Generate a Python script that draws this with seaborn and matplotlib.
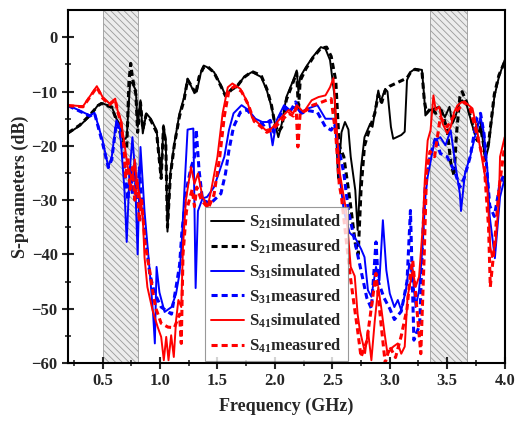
import numpy as np
import pandas as pd
import matplotlib
matplotlib.use("Agg")
import matplotlib.pyplot as plt
import seaborn as sns

# S21 simulated
s21_sim_f = [0.20, 0.30, 0.39, 0.46, 0.49, 0.58, 0.62, 0.65, 0.68, 0.71, 0.74, 0.76, 0.79, 0.805,
             0.83, 0.85, 0.88, 0.92, 0.97, 1.01, 1.03, 1.05, 1.065, 1.09, 1.125, 1.17, 1.21, 1.24,
             1.28, 1.32, 1.36, 1.38, 1.41, 1.47, 1.53, 1.57, 1.62, 1.67, 1.73, 1.80, 1.88, 1.93,
             1.97, 2.00, 2.03, 2.06, 2.10, 2.16, 2.19, 2.205, 2.22, 2.27, 2.33, 2.40, 2.44, 2.48,
             2.52, 2.55, 2.58, 2.61, 2.64, 2.66, 2.70, 2.72, 2.75, 2.78, 2.83, 2.85, 2.90, 2.92,
             2.96, 2.98, 3.01, 3.03, 3.10, 3.13, 3.15, 3.18, 3.22, 3.28, 3.30, 3.31, 3.35, 3.39,
             3.43, 3.48, 3.52, 3.545, 3.57, 3.61, 3.63, 3.67, 3.73, 3.79, 3.83, 3.86, 3.91, 3.95, 4.00]
s21_sim_db = [-17.7, -16.3, -14.5, -12.5, -12.1, -12.8, -15.0, -16.0, -19.0, -18.4, -8.2, -8.5, -9.8, -16.5,
              -11.6, -17.7, -14.0, -15.0, -17.1, -25.7, -16.2, -19.0, -35.8, -25.0, -19.5, -14.0, -11.0, -7.6,
              -9.4, -10.0, -6.1, -5.2, -5.5, -6.4, -8.8, -10.7, -9.5, -9.2, -7.3, -6.4, -7.3, -9.8,
              -12.8, -15.9, -18.4, -15.9, -11.0, -7.9, -6.1, -10.0, -7.3, -5.5, -3.6, -1.8, -2.1, -4.2,
              -11.0, -26.0, -17.5, -15.6, -17.0, -22.0, -28.2, -35.5, -24.0, -18.4, -15.9, -16.5, -9.8, -11.9,
              -9.5, -10.0, -16.5, -18.7, -18.0, -17.4, -7.9, -6.4, -5.8, -6.0, -11.0, -14.4, -13.4, -13.1,
              -12.8, -14.7, -12.8, -15.9, -14.7, -11.9, -11.6, -12.5, -17.1, -15.3, -22.7, -20.2, -11.0, -7.3, -4.2]

# S21 measured
s21_mea_f = [0.20, 0.30, 0.39, 0.46, 0.49, 0.58, 0.62, 0.68, 0.71, 0.73, 0.745, 0.76, 0.79, 0.805,
             0.83, 0.85, 0.88, 0.92, 0.97, 1.01, 1.03, 1.05, 1.065, 1.09, 1.125, 1.17, 1.21, 1.24,
             1.28, 1.31, 1.34, 1.38, 1.41, 1.47, 1.53, 1.57, 1.62, 1.67, 1.73, 1.80, 1.88, 1.93,
             1.97, 2.00, 2.03, 2.06, 2.10, 2.16, 2.19, 2.205, 2.22, 2.27, 2.33, 2.40, 2.45, 2.49,
             2.53, 2.56, 2.60, 2.65, 2.70, 2.725, 2.75, 2.78, 2.83, 2.87, 2.90, 2.93, 2.96, 3.00,
             3.05, 3.10, 3.15, 3.18, 3.22, 3.28, 3.30, 3.32, 3.36, 3.40, 3.45, 3.50, 3.53, 3.56,
             3.58, 3.61, 3.63, 3.67, 3.72, 3.76, 3.79, 3.83, 3.86, 3.91, 3.95, 4.00]
s21_mea_db = [-17.6, -16.2, -14.3, -12.6, -12.2, -12.9, -15.2, -19.5, -20.5, -8.0, -4.8, -7.5, -10.5, -17.5,
              -12.0, -17.0, -14.2, -15.3, -17.5, -26.0, -16.5, -19.5, -35.0, -25.5, -19.8, -14.5, -11.5, -7.8,
              -9.2, -10.5, -7.3, -5.5, -5.3, -6.5, -9.0, -10.8, -9.7, -9.0, -7.4, -6.3, -7.0, -9.5,
              -12.5, -16.0, -17.5, -16.5, -11.5, -8.2, -6.5, -13.5, -8.0, -5.8, -3.8, -2.0, -1.8, -3.5,
              -8.0, -20.0, -22.0, -29.5, -38.0, -40.0, -28.0, -20.0, -16.5, -14.0, -10.5, -12.0, -9.8, -9.0,
              -8.5, -8.0, -7.5, -6.5, -5.9, -6.2, -11.5, -14.0, -13.0, -14.0, -13.5, -17.0, -23.0, -25.5,
              -18.0, -11.0, -10.0, -12.0, -16.0, -19.0, -16.5, -21.5, -19.5, -10.5, -7.0, -4.5]

# S31 simulated
s31_sim_f = [0.20, 0.30, 0.39, 0.43, 0.50, 0.55, 0.58, 0.62, 0.65, 0.69, 0.71, 0.735, 0.76, 0.78,
             0.805, 0.83, 0.865, 0.91, 0.94, 0.955, 0.97, 0.995, 1.04, 1.10, 1.14, 1.17, 1.19, 1.22,
             1.24, 1.29, 1.31, 1.33, 1.37, 1.41, 1.47, 1.56, 1.60, 1.64, 1.71, 1.77, 1.83, 1.89,
             1.95, 1.98, 2.015, 2.08, 2.13, 2.18, 2.22, 2.29, 2.37, 2.44, 2.51, 2.535, 2.56, 2.60,
             2.65, 2.70, 2.75, 2.78, 2.81, 2.84, 2.88, 2.91, 2.94, 2.97, 3.00, 3.04, 3.07, 3.10,
             3.14, 3.17, 3.20, 3.225, 3.255, 3.285, 3.31, 3.33, 3.39, 3.44, 3.485, 3.53, 3.57, 3.61,
             3.62, 3.655, 3.70, 3.74, 3.79, 3.82, 3.85, 3.87, 3.915, 3.96, 4.00]
s31_sim_db = [-12.5, -13.5, -14.4, -13.9, -19.0, -23.9, -22.0, -15.3, -16.5, -28.0, -37.7, -25.0, -18.4, -24.0,
              -40.0, -20.2, -32.0, -43.0, -51.0, -56.4, -42.3, -47.0, -50.6, -49.7, -47.2, -43.5, -37.4, -25.0,
              -17.0, -16.8, -46.2, -32.0, -29.7, -29.4, -27.6, -22.0, -17.1, -14.0, -12.5, -13.4, -15.0, -15.6,
              -15.6, -19.9, -15.3, -12.5, -13.4, -12.8, -13.8, -13.1, -12.5, -15.0, -15.0, -17.0, -25.0, -32.0,
              -36.0, -37.0, -39.0, -40.5, -46.6, -47.8, -42.3, -44.8, -33.7, -42.9, -47.2, -49.7, -48.4, -50.3,
              -46.6, -41.7, -44.0, -49.7, -46.6, -38.6, -29.4, -25.7, -19.0, -18.4, -19.9, -17.1, -23.3, -28.8,
              -32.0, -25.0, -22.0, -18.4, -14.7, -17.7, -24.5, -33.0, -40.7, -29.4, -26.0]

# S31 measured
s31_mea_f = [0.20, 0.30, 0.39, 0.43, 0.50, 0.55, 0.58, 0.62, 0.65, 0.68, 0.70, 0.72, 0.745, 0.76,
             0.78, 0.80, 0.82, 0.85, 0.88, 0.91, 0.95, 1.01, 1.07, 1.10, 1.14, 1.17, 1.19, 1.23,
             1.27, 1.30, 1.315, 1.34, 1.37, 1.44, 1.53, 1.57, 1.60, 1.64, 1.70, 1.76, 1.83, 1.90,
             1.96, 1.99, 2.03, 2.08, 2.13, 2.18, 2.20, 2.23, 2.29, 2.37, 2.44, 2.49, 2.52, 2.55,
             2.60, 2.64, 2.68, 2.72, 2.76, 2.80, 2.84, 2.88, 2.90, 2.95, 3.00, 3.04, 3.10, 3.15,
             3.18, 3.21, 3.26, 3.29, 3.31, 3.35, 3.40, 3.44, 3.50, 3.57, 3.61, 3.65, 3.70, 3.76,
             3.79, 3.82, 3.87, 3.91, 3.96, 4.00]
s31_mea_db = [-12.6, -13.6, -14.5, -14.0, -19.5, -24.0, -22.5, -15.8, -17.0, -22.0, -26.0, -30.0, -24.0, -29.0,
              -23.0, -31.0, -24.0, -33.0, -38.0, -43.5, -47.0, -49.7, -50.6, -51.0, -46.0, -42.0, -36.0, -28.0,
              -24.0, -22.0, -17.0, -24.5, -30.0, -30.6, -28.8, -25.1, -20.8, -16.5, -13.8, -13.4, -15.3, -16.2,
              -15.3, -17.5, -15.0, -13.0, -13.8, -11.9, -13.0, -14.0, -13.5, -13.8, -16.5, -17.1, -16.0, -20.0,
              -25.0, -32.0, -36.0, -40.0, -44.0, -48.0, -50.0, -37.7, -45.0, -48.0, -50.0, -52.0, -50.5, -45.0,
              -31.9, -55.8, -53.0, -35.0, -27.0, -22.0, -18.4, -21.4, -22.0, -25.0, -27.6, -25.8, -22.0, -14.7,
              -14.0, -17.7, -31.0, -33.0, -27.0, -25.0]

# S41 simulated
s41_sim_f = [0.20, 0.33, 0.45, 0.50, 0.56, 0.61, 0.63, 0.66, 0.69, 0.72, 0.76, 0.78, 0.80, 0.82,
             0.85, 0.865, 0.89, 0.935, 0.98, 1.01, 1.033, 1.054, 1.074, 1.097, 1.12, 1.14, 1.16, 1.185,
             1.20, 1.225, 1.27, 1.30, 1.33, 1.37, 1.415, 1.445, 1.50, 1.545, 1.59, 1.63, 1.70, 1.76,
             1.80, 1.86, 1.92, 1.97, 2.045, 2.12, 2.16, 2.19, 2.25, 2.32, 2.38, 2.44, 2.48, 2.51,
             2.535, 2.565, 2.62, 2.66, 2.695, 2.72, 2.74, 2.785, 2.81, 2.84, 2.87, 2.90, 2.925, 2.955,
             2.98, 3.03, 3.07, 3.10, 3.13, 3.155, 3.20, 3.225, 3.255, 3.285, 3.305, 3.33, 3.355, 3.38,
             3.40, 3.43, 3.46, 3.50, 3.53, 3.56, 3.59, 3.63, 3.67, 3.72, 3.76, 3.80, 3.85, 3.875,
             3.89, 3.92, 3.95, 3.96, 4.00]
s41_sim_db = [-12.5, -12.7, -9.0, -11.0, -12.2, -11.3, -13.4, -15.3, -19.6, -24.0, -26.3, -22.5, -27.0, -28.8,
              -33.0, -40.5, -46.0, -50.3, -53.4, -55.2, -59.5, -55.2, -59.5, -54.9, -58.9, -52.1, -48.4, -49.7,
              -38.6, -30.0, -23.9, -27.0, -25.1, -29.4, -31.2, -28.2, -22.0, -14.0, -9.2, -8.5, -9.5, -11.9,
              -14.7, -15.9, -17.1, -16.8, -15.0, -13.4, -14.0, -12.5, -13.8, -11.6, -11.0, -10.7, -9.2, -7.5,
              -15.9, -25.0, -31.9, -42.3, -44.0, -51.0, -54.0, -58.2, -54.0, -59.5, -52.1, -46.0, -49.7, -54.6,
              -58.3, -57.0, -56.4, -58.3, -57.0, -47.8, -42.9, -46.0, -44.1, -35.5, -26.3, -19.0, -17.1, -10.7,
              -13.4, -12.8, -15.9, -17.7, -16.5, -13.8, -12.5, -11.9, -12.2, -13.1, -17.1, -22.0, -28.2, -38.6,
              -40.5, -38.0, -30.0, -22.0, -18.4]

# S41 measured
s41_mea_f = [0.20, 0.33, 0.45, 0.50, 0.56, 0.61, 0.63, 0.66, 0.69, 0.70, 0.72, 0.74, 0.76, 0.78,
             0.80, 0.82, 0.84, 0.87, 0.91, 0.935, 0.96, 1.01, 1.07, 1.125, 1.17, 1.185, 1.20, 1.23,
             1.28, 1.30, 1.32, 1.36, 1.42, 1.47, 1.52, 1.56, 1.60, 1.65, 1.71, 1.77, 1.82, 1.88,
             1.93, 1.98, 2.05, 2.12, 2.16, 2.185, 2.20, 2.22, 2.27, 2.33, 2.40, 2.46, 2.49, 2.53,
             2.56, 2.58, 2.65, 2.68, 2.72, 2.75, 2.80, 2.88, 2.92, 2.96, 3.00, 3.05, 3.10, 3.15,
             3.18, 3.20, 3.24, 3.27, 3.30, 3.32, 3.35, 3.39, 3.44, 3.50, 3.59, 3.65, 3.70, 3.76,
             3.82, 3.86, 3.875, 3.91, 3.95, 4.00]
s41_mea_db = [-12.6, -12.8, -9.2, -11.2, -12.4, -11.5, -13.6, -15.6, -21.0, -26.0, -22.0, -28.0, -24.0, -30.0,
              -26.0, -34.0, -30.0, -38.0, -43.0, -46.6, -49.7, -52.7, -53.4, -53.5, -51.0, -56.4, -40.0, -32.0,
              -28.0, -31.2, -27.6, -30.0, -31.5, -29.0, -22.0, -14.5, -9.8, -9.0, -10.0, -12.5, -15.5, -16.5,
              -17.5, -17.0, -15.5, -14.0, -14.5, -13.0, -20.2, -14.0, -13.5, -12.5, -12.0, -11.5, -11.3, -18.0,
              -27.0, -29.5, -43.0, -47.8, -54.0, -58.9, -56.0, -43.5, -52.0, -60.0, -57.0, -59.0, -55.0, -50.0,
              -43.5, -41.1, -51.0, -58.3, -40.0, -25.0, -21.0, -22.0, -14.7, -16.5, -13.4, -11.9, -13.1, -18.0,
              -23.0, -35.0, -46.0, -38.6, -28.0, -20.0]

bands = [(0.50, 0.81), (3.35, 3.67)]

series = [
    ("S$_{21}$simulated", s21_sim_f, s21_sim_db, "black", "-"),
    ("S$_{21}$measured", s21_mea_f, s21_mea_db, "black", (0, (2, 1.3))),
    ("S$_{31}$simulated", s31_sim_f, s31_sim_db, "#0000ff", "-"),
    ("S$_{31}$measured", s31_mea_f, s31_mea_db, "#0000ff", (0, (2, 1.3))),
    ("S$_{41}$simulated", s41_sim_f, s41_sim_db, "#ff0000", "-"),
    ("S$_{41}$measured", s41_mea_f, s41_mea_db, "#ff0000", (0, (2, 1.3))),
]

sns.set_theme(style="ticks")
plt.rcParams["font.family"] = ["Liberation Serif", "DejaVu Serif"]
plt.rcParams["font.weight"] = "bold"
plt.rcParams["mathtext.fontset"] = "custom"
plt.rcParams["mathtext.rm"] = "Liberation Serif:bold"
plt.rcParams["mathtext.it"] = "Liberation Serif:bold"
plt.rcParams["mathtext.bf"] = "Liberation Serif:bold"
plt.rcParams["hatch.linewidth"] = 0.6
plt.rcParams["hatch.color"] = "#8a8a8a"

fig = plt.figure(figsize=(5.16, 4.25), dpi=100)
ax = fig.add_axes([0.132, 0.146, 0.846, 0.830])

for lo, hi in bands:
    ax.axvspan(lo, hi, facecolor="#ececec", edgecolor="#9a9a9a", hatch="\\\\\\\\\\", linewidth=0.6, zorder=0)

for label, f, db, color, ls in series:
    df = pd.DataFrame({"f": f, "db": db})
    dashed = ls != "-"
    sns.lineplot(data=df, x="f", y="db", ax=ax, color=color, linestyle=ls,
                 linewidth=2.2 if dashed else 1.4, label=label, estimator=None)

ax.set_xlim(0.2, 4.0)
ax.set_ylim(-60, 5)
ax.set_xticks(np.arange(0.5, 4.01, 0.5))
ax.set_xticks(np.arange(0.25, 4.01, 0.25), minor=True)
ax.set_yticks(np.arange(-60, 1, 10))
ax.set_yticks(np.arange(-60, 5, 5), minor=True)
ax.tick_params(which="major", direction="inout", length=8, width=1.5, labelsize=12,
               top=False, right=False)
ax.tick_params(which="minor", direction="inout", length=5, width=1.2, top=False, right=False)
for lab in ax.get_xticklabels() + ax.get_yticklabels():
    lab.set_fontweight("bold")
for sp in ax.spines.values():
    sp.set_linewidth(1.5)
    sp.set_color("black")

ax.set_xlabel("Frequency (GHz)", fontsize=13, fontweight="bold", labelpad=6)
ax.set_ylabel("S-parameters (dB)", fontsize=13, fontweight="bold", labelpad=2)

leg = ax.legend(loc="lower left", bbox_to_anchor=(0.314, 0.006), fontsize=12, frameon=True,
                fancybox=False, edgecolor="#808080", handlelength=2.0, handletextpad=0.3,
                labelspacing=0.38, borderpad=0.35, borderaxespad=0.0, prop={"weight": "bold", "size": 12})
leg.get_frame().set_linewidth(0.8)

fig.savefig("out.png", dpi=100)
